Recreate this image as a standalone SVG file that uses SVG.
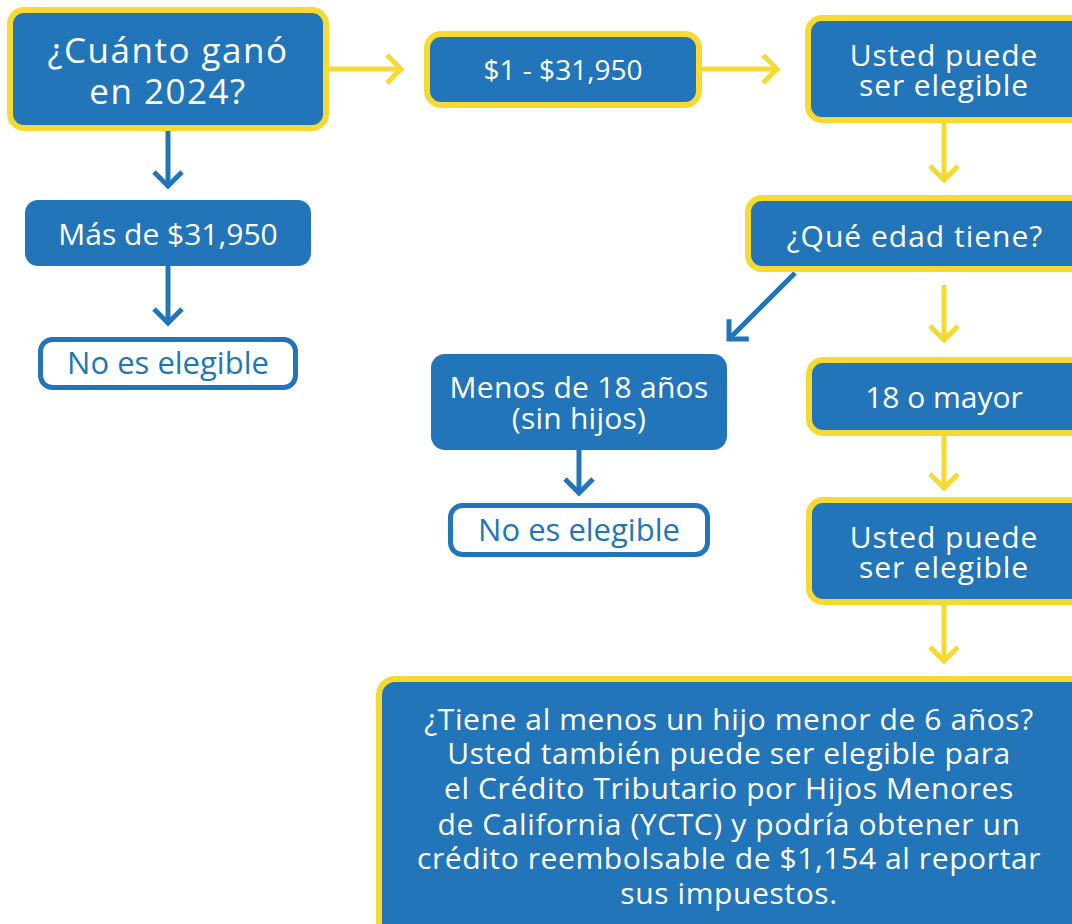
<svg xmlns="http://www.w3.org/2000/svg" width="1072" height="924" viewBox="0 0 1072 924">
<style>
.box{fill:#2275b9;stroke:#f6da33;stroke-width:6}
.plain{fill:#2275b9;stroke:none}
.no{fill:#ffffff;stroke:#2275b9;stroke-width:5}
.t{font-family:"Open Sans","Noto Sans","Liberation Sans",sans-serif;fill:#ffffff;text-anchor:middle}
.tb{font-family:"Open Sans","Noto Sans","Liberation Sans",sans-serif;fill:#2275b9;text-anchor:middle}
.cy{stroke:#f6da33;stroke-width:5;fill:none;marker-end:url(#ay)}
.cb{stroke:#2275b9;stroke-width:5;fill:none;marker-end:url(#ab)}
</style>
<defs>
<marker id="ay" markerUnits="userSpaceOnUse" viewBox="-20 -20 40 40" markerWidth="40" markerHeight="40" refX="0" refY="0" orient="auto">
<path d="M-14,-14 L0,0 L-14,14" fill="none" stroke="#f6da33" stroke-width="5"/>
</marker>
<marker id="ab" markerUnits="userSpaceOnUse" viewBox="-20 -20 40 40" markerWidth="40" markerHeight="40" refX="0" refY="0" orient="auto">
<path d="M-14,-14 L0,0 L-14,14" fill="none" stroke="#2275b9" stroke-width="5"/>
</marker>
</defs>
<g id="connectors">
<path class="cy" d="M329,69 L401,69"/>
<path class="cy" d="M702,69 L777,69"/>
<path class="cy" d="M944,123 L944,180"/>
<path class="cy" d="M944,285 L944,340"/>
<path class="cy" d="M944,436 L944,488"/>
<path class="cy" d="M944,605 L944,661"/>
<path class="cb" d="M168,131 L168,186"/>
<path class="cb" d="M168,266 L168,323"/>
<path class="cb" d="M795,273 L729,339"/>
<path class="cb" d="M579,450 L579,493"/>
</g>
<g id="n-cuanto">
<rect class="box" x="10" y="10" width="316" height="118" rx="14"/>
<text class="t" font-size="35" letter-spacing="1.5"><tspan x="168" y="63">¿Cuánto ganó</tspan><tspan x="168" y="104">en 2024?</tspan></text>
</g>
<g id="n-rango">
<rect class="box" x="427" y="34" width="272" height="71" rx="14"/>
<text class="t" font-size="28" x="563" y="80">$1 - $31,950</text>
</g>
<g id="n-elegible1">
<rect class="box" x="808" y="18" width="280" height="102" rx="14"/>
<text class="t" font-size="30" letter-spacing="0.9"><tspan x="944" y="66">Usted puede</tspan><tspan x="944" y="96">ser elegible</tspan></text>
</g>
<g id="n-edad">
<rect class="box" x="748" y="198" width="340" height="71" rx="14"/>
<text class="t" font-size="30" letter-spacing="1" x="915" y="247">¿Qué edad tiene?</text>
</g>
<g id="n-mas">
<rect class="plain" x="25" y="200" width="286" height="66" rx="13"/>
<text class="t" font-size="30" x="168" y="245">Más de $31,950</text>
</g>
<g id="n-no1">
<rect class="no" x="40.5" y="339.5" width="255" height="48" rx="12"/>
<text class="tb" font-size="31" x="168" y="374">No es elegible</text>
</g>
<g id="n-menos">
<rect class="plain" x="431" y="354" width="296" height="96" rx="14"/>
<text class="t" font-size="30" letter-spacing="0.25"><tspan x="579" y="398">Menos de 18 años</tspan><tspan x="579" y="429">(sin hijos)</tspan></text>
</g>
<g id="n-no2">
<rect class="no" x="450.5" y="505.5" width="257" height="49" rx="12"/>
<text class="tb" font-size="31" x="579" y="541">No es elegible</text>
</g>
<g id="n-mayor">
<rect class="box" x="809" y="360" width="280" height="73" rx="14"/>
<text class="t" font-size="30" x="944" y="408">18 o mayor</text>
</g>
<g id="n-elegible2">
<rect class="box" x="809" y="500" width="280" height="102" rx="14"/>
<text class="t" font-size="30" letter-spacing="0.9"><tspan x="944" y="548">Usted puede</tspan><tspan x="944" y="578">ser elegible</tspan></text>
</g>
<g id="n-yctc">
<rect class="box" x="379" y="679" width="720" height="260" rx="16"/>
<text class="t" font-size="30" letter-spacing="0.6"><tspan x="729" y="730">¿Tiene al menos un hijo menor de 6 años?</tspan><tspan x="729" y="764">Usted también puede ser elegible para</tspan><tspan x="729" y="799">el Crédito Tributario por Hijos Menores</tspan><tspan x="729" y="835">de California (YCTC) y podría obtener un</tspan><tspan x="729" y="869">crédito reembolsable de $1,154 al reportar</tspan><tspan x="729" y="904">sus impuestos.</tspan></text>
</g>
</svg>
